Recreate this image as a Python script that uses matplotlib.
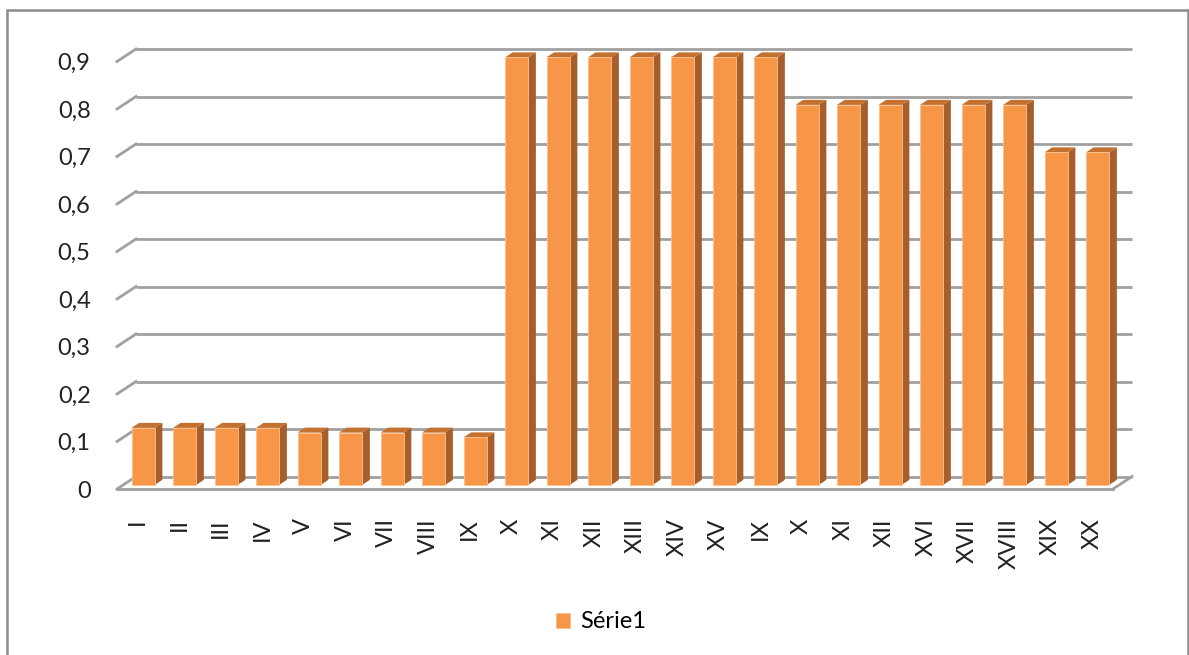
import matplotlib.pyplot as plt
from matplotlib.patches import Rectangle

# data
categories = ['I', 'II', 'III', 'IV', 'V', 'VI', 'VII', 'VIII', 'IX', 'X',
              'XI', 'XII', 'XIII', 'XIV', 'XV', 'IX', 'X', 'XI', 'XII', 'XVI',
              'XVII', 'XVIII', 'XIX', 'XX']
values = [0.12, 0.12, 0.12, 0.12, 0.11, 0.11, 0.11, 0.11, 0.10,
          0.9, 0.9, 0.9, 0.9, 0.9, 0.9, 0.9,
          0.8, 0.8, 0.8, 0.8, 0.8, 0.8,
          0.7, 0.7]
y_ticks = [0, 0.1, 0.2, 0.3, 0.4, 0.5, 0.6, 0.7, 0.8, 0.9]
y_labels = ['0', '0,1', '0,2', '0,3', '0,4', '0,5', '0,6', '0,7', '0,8', '0,9']
series_name = 'Série1'

plt.rcParams['font.family'] = ['Lato', 'DejaVu Sans']

front = '#F79646'
side = '#A65F2A'
top = '#C4712F'
grid = '#A0A0A0'

W, H = 1189, 655
fig = plt.figure(figsize=(W / 100, H / 100), dpi=100)

# chart area border
fig.patches.append(Rectangle((7 / W, -0.05), (1188 - 7) / W, 1 - 10 / H + 0.05,
                             transform=fig.transFigure, fill=False,
                             edgecolor='#8C8C8C', lw=1.8))

n = len(values)
px_x = 41.5   # pixels per category
px_y = 475.0  # pixels per unit value
ax = fig.add_axes([117 / W, 166 / H, 24.6 * px_x / W, 0.95 * px_y / H])
ax.set_xlim(0, 24.6)
ax.set_ylim(0, 0.95)

# 3d depth offsets (data units)
dx = 19 / px_x
dy = 12.5 / px_y
f = 0.33      # depth of the bar front face
bd = 0.4      # bar depth

# back wall gridlines + slanted ticks
for y in y_ticks:
    ax.plot([dx, n + dx], [y + dy, y + dy], color=grid, lw=2, zorder=1,
            solid_capstyle='butt', clip_on=False)
    ax.plot([0, dx], [y, y + dy], color=grid, lw=2, zorder=1, clip_on=False)
# floor
ax.plot([0, n], [0, 0], color=grid, lw=2, zorder=1, clip_on=False)
ax.plot([n, n + dx], [0, dy], color=grid, lw=2, zorder=1, clip_on=False)

xpos = [i + 0.5 + 0.13 for i in range(n)]
bars = ax.bar(xpos, values, width=0.56, bottom=f * dy, color=front,
              edgecolor='#FBC08F', lw=0.6, zorder=3, label=series_name)
for b in bars:
    x0, y0 = b.get_x(), b.get_y()
    x1, y1 = x0 + b.get_width(), y0 + b.get_height()
    ax.fill([x1, x1 + bd * dx, x1 + bd * dx, x1],
            [y0, y0 + bd * dy, y1 + bd * dy, y1], color=side, zorder=2, lw=0)
    ax.fill([x0, x1, x1 + bd * dx, x0 + bd * dx],
            [y1, y1, y1 + bd * dy, y1 + bd * dy], color=top, zorder=2, lw=0)

ax.set_yticks(y_ticks)
ax.set_yticklabels(y_labels, fontsize=17, color='#222222')
ax.set_xticks([i + 0.5 for i in range(n)])
ax.set_xticklabels(categories, rotation=90, fontsize=17, color='#222222',
                   va='top')
ax.tick_params(axis='y', length=0, pad=19)
ax.tick_params(axis='x', length=0, pad=21)
for s in ax.spines.values():
    s.set_visible(False)
ax.patch.set_visible(False)

fig.legend(handles=[bars], labels=[series_name], loc='center',
           bbox_to_anchor=(601 / W, 1 - 622 / H), frameon=False, fontsize=17,
           handlelength=0.6, handleheight=0.6, handletextpad=0.4)

fig.savefig('out.png', dpi=100)
